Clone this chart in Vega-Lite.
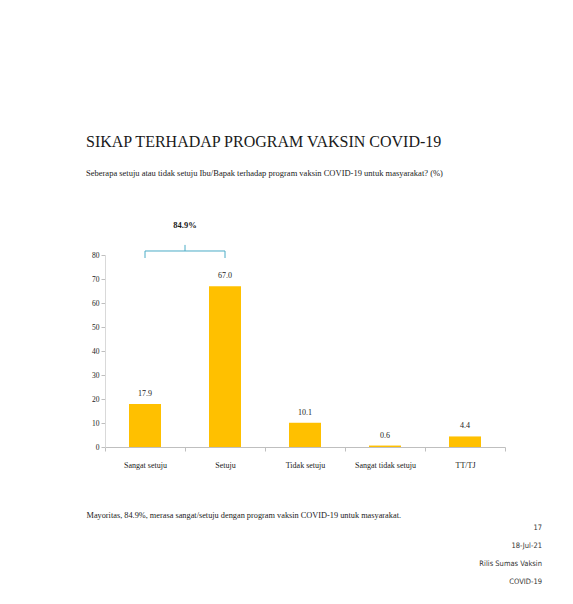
{
  "$schema": "https://vega.github.io/schema/vega-lite/v6.json",
  "background": "white",
  "padding": {"left": 86, "top": 134, "right": 5, "bottom": 5},
  "config": {
    "font": "Liberation Serif",
    "view": {"stroke": null},
    "axis": {"grid": false},
    "axisY": {
      "labelOverlap": false,
      "labelFontSize": 7.5,
      "labelColor": "#1a1a1a",
      "labelPadding": 2,
      "domainColor": "#d9d9d9",
      "tickColor": "#bfbfbf",
      "tickSize": 4
    }
  },
  "title": {
    "text": "SIKAP TERHADAP PROGRAM VAKSIN COVID-19",
    "subtitle": "Seberapa setuju atau tidak setuju Ibu/Bapak terhadap program vaksin COVID-19 untuk masyarakat? (%)",
    "anchor": "start",
    "frame": "group",
    "dx": -19,
    "font": "Liberation Serif",
    "fontSize": 16,
    "fontWeight": "normal",
    "color": "#1a1a1a",
    "subtitleFont": "Liberation Serif",
    "subtitleFontSize": 8.5,
    "subtitleColor": "#1a1a1a",
    "subtitlePadding": 19,
    "offset": 43
  },
  "datasets": {
    "bars": [
      {"category": "Sangat setuju", "value": 17.9},
      {"category": "Setuju", "value": 67.0},
      {"category": "Tidak setuju", "value": 10.1},
      {"category": "Sangat tidak setuju", "value": 0.6},
      {"category": "TT/TJ", "value": 4.4}
    ],
    "bracket": [
      {"from": "Sangat setuju", "to": "Setuju", "label": "84.9%"}
    ]
  },
  "vconcat": [
    {
      "width": 400,
      "height": 192,
      "title": {
        "text": ["17", "18-Jul-21", "Rilis Sumas Vaksin", "COVID-19"],
        "orient": "bottom",
        "anchor": "end",
        "frame": "group",
        "align": "right",
        "dx": 37,
        "offset": 6,
        "font": "Liberation Sans Narrow, DejaVu Sans Condensed, Liberation Sans, sans-serif",
        "fontSize": 7.5,
        "fontWeight": "normal",
        "lineHeight": 17.8,
        "color": "#333333"
      },
      "layer": [
        {
          "data": {"name": "bars"},
          "mark": {"type": "bar", "color": "#FFC000", "width": {"band": 0.4}},
          "encoding": {
            "x": {
              "field": "category",
              "type": "nominal",
              "sort": null,
              "scale": {
                "domain": ["Sangat setuju", "Setuju", "Tidak setuju", "Sangat tidak setuju", "TT/TJ"],
                "paddingInner": 0,
                "paddingOuter": 0
              },
              "axis": {
                "title": "Mayoritas, 84.9%, merasa sangat/setuju dengan program vaksin COVID-19 untuk masyarakat.",
                "titleX": -19,
                "titleY": 70,
                "titleAlign": "left",
                "titleBaseline": "alphabetic",
                "titleFontSize": 8.3,
                "titleFontWeight": "normal",
                "titleColor": "#1a1a1a",
                "labelAngle": 0,
                "labelFontSize": 8,
                "labelColor": "#1a1a1a",
                "labelPadding": 10,
                "domainColor": "#bfbfbf",
                "tickColor": "#bfbfbf",
                "tickSize": 4,
                "tickBand": "extent"
              }
            },
            "y": {
              "field": "value",
              "type": "quantitative",
              "scale": {"domain": [0, 80], "nice": false},
              "axis": {"title": null, "values": [0, 10, 20, 30, 40, 50, 60, 70, 80]}
            }
          }
        },
        {
          "data": {"name": "bars"},
          "mark": {"type": "text", "baseline": "alphabetic", "align": "center", "dy": -8, "fontSize": 8, "color": "#1a1a1a"},
          "encoding": {
            "x": {"field": "category", "type": "nominal", "sort": null},
            "y": {
              "field": "value",
              "type": "quantitative",
              "axis": {"title": null, "values": [0, 10, 20, 30, 40, 50, 60, 70, 80]}
            },
            "text": {"field": "value", "type": "quantitative", "format": ".1f"}
          }
        },
        {
          "data": {"name": "bracket"},
          "mark": {"type": "rule", "color": "#4BACC6", "strokeWidth": 1},
          "encoding": {
            "x": {"field": "from", "type": "nominal"},
            "x2": {"field": "to"},
            "y": {"datum": 81.67, "axis": {"title": null, "values": [0, 10, 20, 30, 40, 50, 60, 70, 80]}}
          }
        },
        {
          "data": {"name": "bracket"},
          "mark": {"type": "rule", "color": "#4BACC6", "strokeWidth": 1},
          "encoding": {
            "x": {"field": "from", "type": "nominal"},
            "y": {"datum": 78.75, "axis": {"title": null, "values": [0, 10, 20, 30, 40, 50, 60, 70, 80]}},
            "y2": {"datum": 81.67}
          }
        },
        {
          "data": {"name": "bracket"},
          "mark": {"type": "rule", "color": "#4BACC6", "strokeWidth": 1},
          "encoding": {
            "x": {"field": "to", "type": "nominal"},
            "y": {"datum": 78.75, "axis": {"title": null, "values": [0, 10, 20, 30, 40, 50, 60, 70, 80]}},
            "y2": {"datum": 81.67}
          }
        },
        {
          "data": {"name": "bracket"},
          "mark": {"type": "rule", "color": "#4BACC6", "strokeWidth": 1},
          "encoding": {
            "x": {"field": "to", "type": "nominal", "bandPosition": 0},
            "y": {"datum": 81.67, "axis": {"title": null, "values": [0, 10, 20, 30, 40, 50, 60, 70, 80]}},
            "y2": {"datum": 84.2}
          }
        },
        {
          "data": {"name": "bracket"},
          "mark": {"type": "text", "align": "center", "baseline": "alphabetic", "fontSize": 8.5, "fontWeight": "bold", "color": "#1a1a1a"},
          "encoding": {
            "x": {"field": "to", "type": "nominal", "bandPosition": 0},
            "y": {"datum": 91.3, "axis": {"title": null, "values": [0, 10, 20, 30, 40, 50, 60, 70, 80]}},
            "text": {"field": "label"}
          }
        }
      ]
    }
  ]
}
